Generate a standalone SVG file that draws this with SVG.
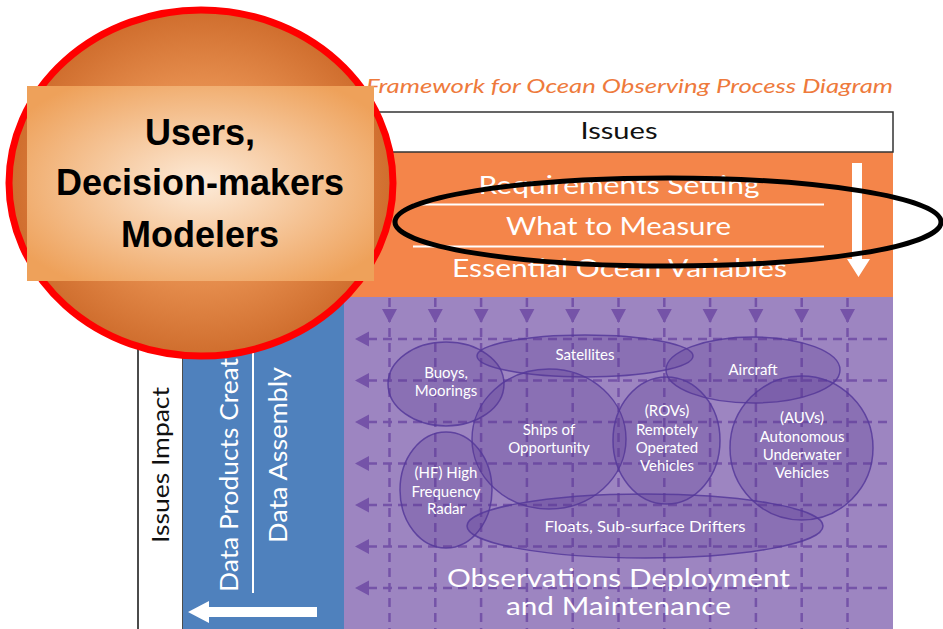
<svg xmlns="http://www.w3.org/2000/svg" width="943" height="629" viewBox="0 0 943 629">
<defs>
<radialGradient id="gCircle" cx="0.5" cy="0.5" r="0.5">
<stop offset="0" stop-color="#f3ad70"/>
<stop offset="0.6" stop-color="#e48b4b"/>
<stop offset="1" stop-color="#cf6d2d"/>
</radialGradient>
<radialGradient id="gRect" cx="0.5" cy="0.5" r="0.62">
<stop offset="0" stop-color="#fdebd9"/>
<stop offset="1" stop-color="#eea15a"/>
</radialGradient>
</defs>
<style>
.av{font-family:Lato,"Noto Sans","Liberation Sans",sans-serif;}
.wt{fill:#ffffff;}
.big{font-size:25px;}
.sm{font-size:15px;fill:#ffffff;text-anchor:middle;font-family:Lato,"Noto Sans","Liberation Sans",sans-serif;}
.vd{stroke:#7553a8;stroke-width:2.5;stroke-dasharray:9 6;fill:none;}
.hd{stroke:#7553a8;stroke-width:2.5;stroke-dasharray:9 6;fill:none;}
.ah{fill:#7553a8;}
.el{fill:#5a3893;fill-opacity:0.28;stroke:#55389a;stroke-opacity:0.85;stroke-width:1.5;}
.ul{font-family:"Liberation Sans",Arial,sans-serif;font-weight:bold;font-size:36px;fill:#000;text-anchor:middle;}
</style>

<g id="title">
<text class="av" x="366" y="93" font-size="20" font-style="italic" fill="#ee7a3c" textLength="527" lengthAdjust="spacingAndGlyphs">Framework for Ocean Observing Process Diagram</text>
</g>

<g id="observations">
<rect x="344" y="297" width="549" height="332" fill="#9d85c1"/>
<g id="grid">
<path class="vd" d="M389.5 298V629M435.3 298V629M481.1 298V629M526.9 298V629M572.7 298V629M618.5 298V629M664.3 298V629M710.1 298V629M755.9 298V629M801.7 298V629M847.5 298V629"/>
<path class="hd" d="M368 339H893M368 380.5H893M368 422H893M368 463.5H893M368 505H893M368 546.5H893M368 588H893"/>
<path class="ah" d="M382 309h15l-7.5 14zM427.8 309h15l-7.5 14zM473.6 309h15l-7.5 14zM519.4 309h15l-7.5 14zM565.2 309h15l-7.5 14zM611 309h15l-7.5 14zM656.8 309h15l-7.5 14zM702.6 309h15l-7.5 14zM748.4 309h15l-7.5 14zM794.2 309h15l-7.5 14zM840 309h15l-7.5 14z"/>
<path class="ah" d="M355 339l14-7.5v15zM355 380.5l14-7.5v15zM355 422l14-7.5v15zM355 463.5l14-7.5v15zM355 505l14-7.5v15zM355 546.5l14-7.5v15zM355 588l14-7.5v15z"/>
</g>
<text class="av wt big" x="618.5" y="587" text-anchor="middle" textLength="343" lengthAdjust="spacingAndGlyphs">Observations Deployment</text>
<text class="av wt big" x="618.5" y="615" text-anchor="middle" textLength="225" lengthAdjust="spacingAndGlyphs">and Maintenance</text>
</g>

<g id="buoys">
<ellipse class="el" cx="446" cy="384" rx="58" ry="42"/>
<text class="sm" x="446" y="378">Buoys,</text>
<text class="sm" x="446" y="396">Moorings</text>
</g>
<g id="satellites">
<ellipse class="el" cx="585" cy="356" rx="108" ry="21"/>
<text class="sm" x="585" y="360">Satellites</text>
</g>
<g id="ships">
<ellipse class="el" cx="549" cy="439" rx="77" ry="70"/>
<text class="sm" x="549" y="435">Ships of</text>
<text class="sm" x="549" y="453">Opportunity</text>
</g>
<g id="aircraft">
<ellipse class="el" cx="753" cy="370" rx="87" ry="33"/>
<text class="sm" x="753" y="375">Aircraft</text>
</g>
<g id="rovs">
<ellipse class="el" cx="666.5" cy="440.5" rx="53.5" ry="63.5"/>
<text class="sm" x="667" y="416">(ROVs)</text>
<text class="sm" x="667" y="435">Remotely</text>
<text class="sm" x="667" y="453">Operated</text>
<text class="sm" x="667" y="471">Vehicles</text>
</g>
<g id="auvs">
<ellipse class="el" cx="801.5" cy="448" rx="71.5" ry="72"/>
<text class="sm" x="802" y="423">(AUVs)</text>
<text class="sm" x="802" y="442">Autonomous</text>
<text class="sm" x="802" y="460">Underwater</text>
<text class="sm" x="802" y="478">Vehicles</text>
</g>
<g id="hfradar">
<ellipse class="el" cx="446" cy="490" rx="46" ry="58"/>
<text class="sm" x="446" y="478">(HF) High</text>
<text class="sm" x="446" y="497">Frequency</text>
<text class="sm" x="446" y="514">Radar</text>
</g>
<g id="floats">
<ellipse class="el" cx="645" cy="526" rx="178" ry="32"/>
<text class="sm" x="645" y="532" textLength="201" lengthAdjust="spacingAndGlyphs">Floats, Sub-surface Drifters</text>
</g>

<g id="requirements">
<rect x="344" y="152" width="549" height="145" fill="#f4854a"/>
<text class="av wt big" x="619" y="194" text-anchor="middle" textLength="281" lengthAdjust="spacingAndGlyphs">Requirements Setting</text>
<line x1="413" y1="204.5" x2="824" y2="204.5" stroke="#fff" stroke-width="2"/>
<text class="av wt big" x="618.5" y="235" text-anchor="middle" textLength="225" lengthAdjust="spacingAndGlyphs">What to Measure</text>
<line x1="413" y1="246.5" x2="824" y2="246.5" stroke="#fff" stroke-width="2"/>
<text class="av wt big" x="619.5" y="277" text-anchor="middle" textLength="335" lengthAdjust="spacingAndGlyphs">Essential Ocean Variables</text>
<path d="M852 163h10v96h8l-11.5 18l-11.5-18h5z" fill="#fff"/>
</g>

<g id="issues">
<rect x="344" y="112" width="549" height="40" fill="#fff" stroke="#333" stroke-width="1.5"/>
<text class="av" x="619" y="139" font-size="23" fill="#111" text-anchor="middle" textLength="77" lengthAdjust="spacingAndGlyphs">Issues</text>
</g>

<g id="issuesImpact">
<rect x="138" y="297" width="45" height="340" fill="#fff" stroke="#111" stroke-width="1.5"/>
<text class="av" transform="translate(169,465) rotate(-90)" font-size="23" fill="#111" text-anchor="middle" textLength="156" lengthAdjust="spacingAndGlyphs">Issues Impact</text>
</g>

<g id="dataColumn">
<rect x="183" y="297" width="161" height="332" fill="#4f81bd"/>
<text class="av wt big" transform="translate(238,592) rotate(-90)" textLength="234" lengthAdjust="spacingAndGlyphs">Data Products Creat</text>
<line x1="253" y1="352" x2="253" y2="593" stroke="#fff" stroke-width="2"/>
<text class="av wt big" transform="translate(287,455) rotate(-90)" text-anchor="middle" textLength="176" lengthAdjust="spacingAndGlyphs">Data Assembly</text>
<path d="M317 607v10h-108v6l-21-11l21-11v6z" fill="#fff"/>
</g>

<g id="users">
<ellipse cx="201" cy="183" rx="192" ry="173" fill="url(#gCircle)" stroke="#ff0000" stroke-width="7"/>
<rect x="27" y="86" width="347" height="195" fill="url(#gRect)"/>
<text class="ul" x="200" y="145">Users,</text>
<text class="ul" x="200" y="195">Decision-makers</text>
<text class="ul" x="200" y="247">Modelers</text>
</g>

<g id="highlight">
<ellipse cx="668" cy="222" rx="273" ry="44" fill="none" stroke="#000" stroke-width="5"/>
</g>
</svg>
